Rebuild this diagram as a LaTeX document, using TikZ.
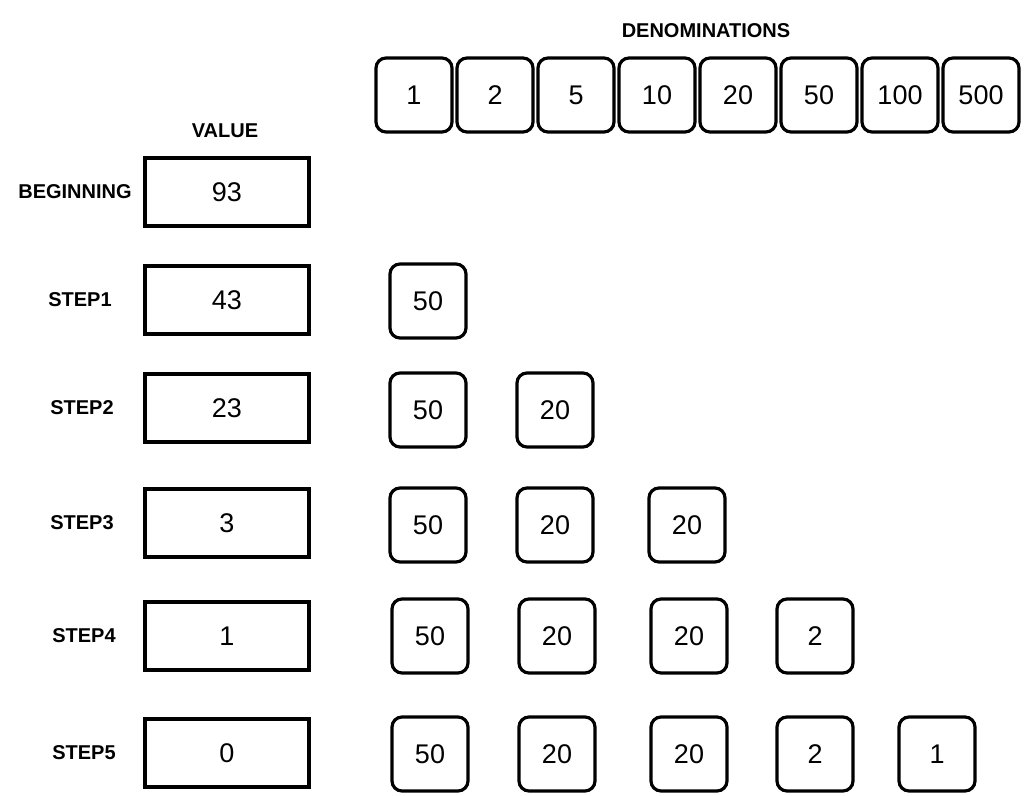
\documentclass[tikz,border=0pt]{standalone}
\usepackage{fontspec}
\setmainfont{Liberation Sans}
\tikzset{
  coinbox/.style={draw, line width=3.2pt, rounded corners=10pt, minimum width=76pt, minimum height=74pt, font=\fontsize{27}{30}\selectfont, inner sep=0pt},
  valbox/.style={draw, line width=3.4pt, minimum width=164pt, minimum height=68pt, font=\fontsize{27}{30}\selectfont, inner sep=0pt},
  rowlabel/.style={font=\bfseries\fontsize{20}{23}\selectfont}
}
\begin{document}
\begin{tikzpicture}[x=1pt, y=-1pt]
\useasboundingbox (0,0) rectangle (1024,795);
\node[rowlabel] (denomlabel) at (706,31) {DENOMINATIONS};
\node[rowlabel] (valuelabel) at (225,131) {VALUE};
% denominations
\foreach \d [count=\i] in {1,2,5,10,20,50,100,500}
  \node[coinbox] (denom\i) at (414+81*\i-81, 95) {\d};
% value column
\foreach \lab/\v/\x/\y [count=\i] in {BEGINNING/93/75/192, STEP1/43/80/300, STEP2/23/82/408, STEP3/3/82/523, STEP4/1/84/636, STEP5/0/84/753}
{
  \node[rowlabel] (steplabel\i) at (\x,\y) {\lab};
  \node[valbox] (value\i) at (227,\y) {\v};
}
% coins taken
\node[coinbox] (coinA1) at (428,301) {50};
\node[coinbox] (coinB1) at (428,410) {50};
\node[coinbox] (coinB2) at (555,410) {20};
\node[coinbox] (coinC1) at (428,525) {50};
\node[coinbox] (coinC2) at (555,525) {20};
\node[coinbox] (coinC3) at (687,525) {20};
\node[coinbox] (coinD1) at (430,636) {50};
\node[coinbox] (coinD2) at (557,636) {20};
\node[coinbox] (coinD3) at (689,636) {20};
\node[coinbox] (coinD4) at (815,636) {2};
\node[coinbox] (coinE1) at (430,754) {50};
\node[coinbox] (coinE2) at (557,754) {20};
\node[coinbox] (coinE3) at (689,754) {20};
\node[coinbox] (coinE4) at (815,754) {2};
\node[coinbox] (coinE5) at (937,754) {1};
\end{tikzpicture}
\end{document}
